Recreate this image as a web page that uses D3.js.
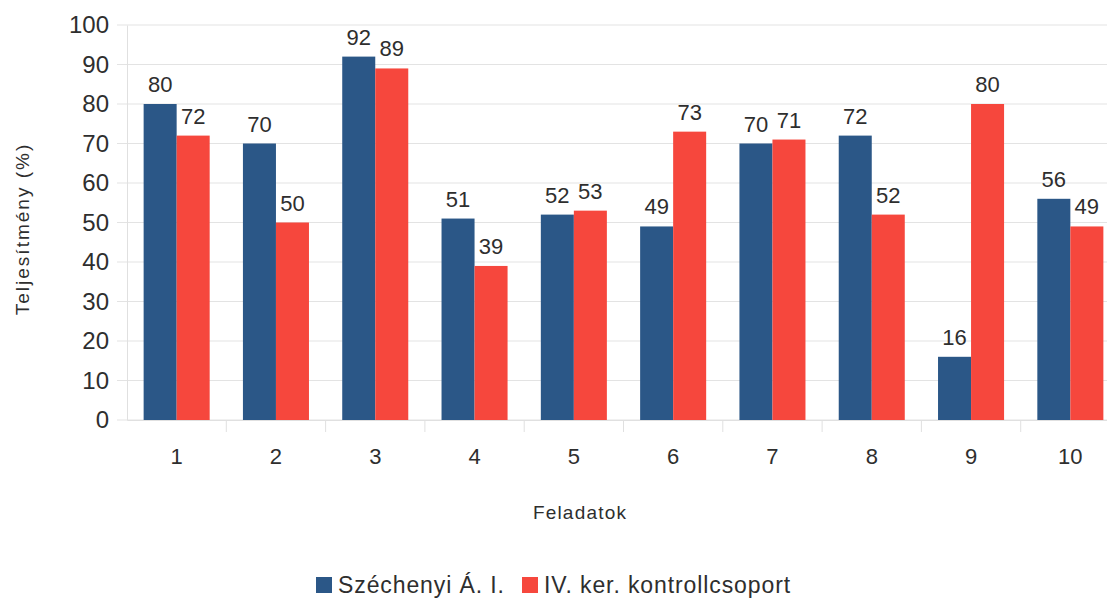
<!DOCTYPE html>
<html>
<head>
<meta charset="utf-8">
<script src="https://cdn.jsdelivr.net/npm/d3@7"></script>
<style>
  body { margin: 0; background: #fff; }
  text { font-family: "Liberation Sans", Arial, sans-serif; fill: #2e2e2e; }
</style>
</head>
<body>
<div id="chart"></div>
<script>
// Data
var tasks = ["1", "2", "3", "4", "5", "6", "7", "8", "9", "10"];
var szechenyi = [80, 70, 92, 51, 52, 49, 70, 72, 16, 56];
var kontroll = [72, 50, 89, 39, 53, 73, 71, 52, 80, 49];
var seriesNames = ["Széchenyi Á. I.", "IV. ker. kontrollcsoport"];
var seriesColors = ["#2b5787", "#f6473d"];
var yTicks = [0, 10, 20, 30, 40, 50, 60, 70, 80, 90, 100];

var svgWidth = 1107;
var svgHeight = 598;

var plot = { left: 127, right: 1120, top: 25, bottom: 420 };

var svg = d3.select("#chart")
  .append("svg")
  .attr("width", svgWidth)
  .attr("height", svgHeight);

// Scales
var x0 = d3.scaleBand()
  .domain(tasks)
  .range([plot.left, plot.right])
  .paddingInner(0.335)
  .paddingOuter(0.1675);

var x1 = d3.scaleBand()
  .domain([0, 1])
  .range([0, x0.bandwidth()]);

var y = d3.scaleLinear()
  .domain([0, 100])
  .range([plot.bottom, plot.top]);

// Grid lines
svg.append("g")
  .selectAll("line")
  .data(yTicks)
  .enter()
  .append("line")
  .attr("x1", plot.left - 10)
  .attr("x2", svgWidth)
  .attr("y1", d => y(d))
  .attr("y2", d => y(d))
  .attr("stroke", "#e3e3e3")
  .attr("stroke-width", 1);

// Left axis
var leftAxis = d3.axisLeft(y).tickValues(yTicks).tickSize(0).tickPadding(18);
var gy = svg.append("g")
  .attr("transform", `translate(${plot.left}, 0)`)
  .call(leftAxis);
gy.select(".domain").attr("stroke", "#e0e0e0");
gy.selectAll("text")
  .style("font-size", "24px")
  .style("font-family", "Liberation Sans, Arial, sans-serif")
  .attr("fill", "#2e2e2e");

// Bottom axis
var bottomAxis = d3.axisBottom(x0).tickSize(0).tickPadding(28);
var gx = svg.append("g")
  .attr("transform", `translate(0, ${plot.bottom})`)
  .call(bottomAxis);
gx.select(".domain").attr("stroke", "#e0e0e0");
gx.selectAll("text")
  .style("font-size", "22px")
  .style("font-family", "Liberation Sans, Arial, sans-serif")
  .attr("fill", "#2e2e2e");

// Category separator ticks
var step = x0.step();
svg.append("g")
  .selectAll("line")
  .data(tasks.slice(0, -1))
  .enter()
  .append("line")
  .attr("x1", d => x0(d) + x0.bandwidth() + (step - x0.bandwidth()) / 2)
  .attr("x2", d => x0(d) + x0.bandwidth() + (step - x0.bandwidth()) / 2)
  .attr("y1", plot.bottom)
  .attr("y2", plot.bottom + 12)
  .attr("stroke", "#e0e0e0");

// Bars
var rows = tasks.map((t, i) => ({ task: t, values: [szechenyi[i], kontroll[i]] }));

var groups = svg.append("g")
  .selectAll("g")
  .data(rows)
  .enter()
  .append("g")
  .attr("transform", d => `translate(${x0(d.task)}, 0)`);

groups.selectAll("rect")
  .data(d => d.values.map((v, k) => ({ k: k, v: v })))
  .enter()
  .append("rect")
  .attr("x", d => x1(d.k))
  .attr("y", d => y(d.v))
  .attr("width", x1.bandwidth())
  .attr("height", d => y(0) - y(d.v))
  .attr("fill", d => seriesColors[d.k]);

// Value labels
groups.selectAll("text")
  .data(d => d.values.map((v, k) => ({ k: k, v: v })))
  .enter()
  .append("text")
  .attr("x", d => x1(d.k) + x1.bandwidth() / 2)
  .attr("y", d => y(d.v) - 12)
  .attr("text-anchor", "middle")
  .style("font-size", "22px")
  .text(d => d.v);

// Axis titles
svg.append("text")
  .attr("transform", "translate(29, 229) rotate(-90)")
  .attr("text-anchor", "middle")
  .style("font-size", "19px")
  .style("letter-spacing", "2px")
  .text("Teljesítmény (%)");

svg.append("text")
  .attr("x", 580)
  .attr("y", 519)
  .attr("text-anchor", "middle")
  .style("font-size", "19px")
  .style("letter-spacing", "1.2px")
  .text("Feladatok");

// Legend
var legendX = [316, 522];
var legend = svg.append("g")
  .selectAll("g")
  .data(seriesNames)
  .enter()
  .append("g")
  .attr("transform", (d, i) => `translate(${legendX[i]}, 577)`);

legend.append("rect")
  .attr("width", 16)
  .attr("height", 16)
  .attr("fill", (d, i) => seriesColors[i]);

legend.append("text")
  .attr("x", 22)
  .attr("y", 16)
  .style("font-size", "23px")
  .style("letter-spacing", "0.9px")
  .text(d => d);
</script>
</body>
</html>
